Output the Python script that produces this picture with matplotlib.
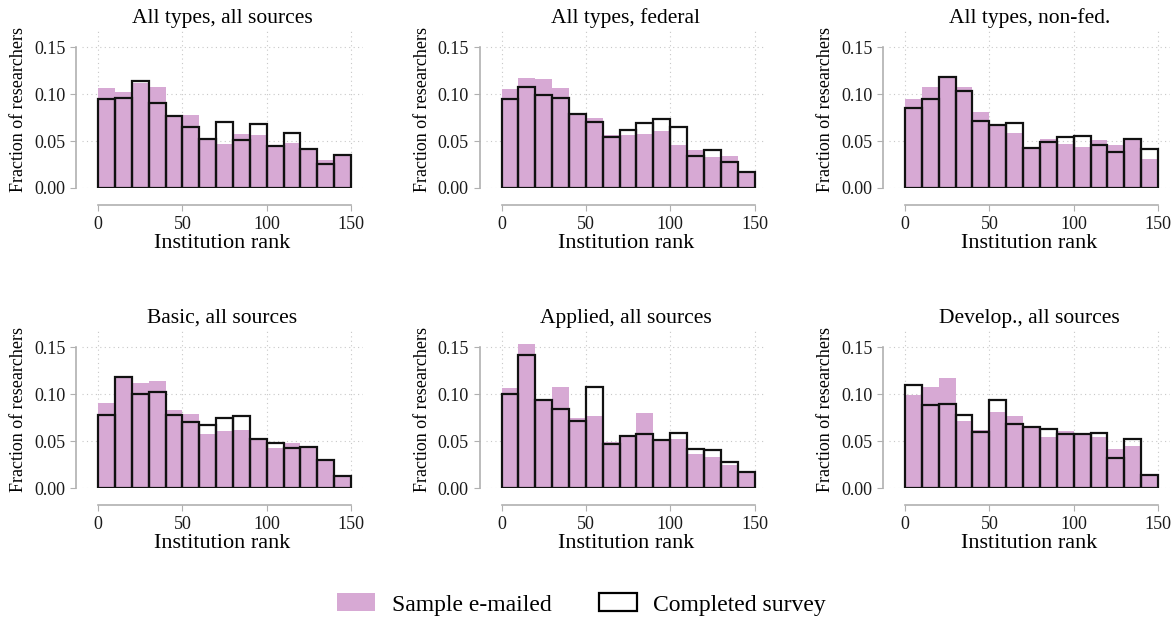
import matplotlib
matplotlib.use("Agg")
import matplotlib.pyplot as plt
from matplotlib.patches import Patch

plt.rcParams['font.family'] = ['Liberation Serif', 'DejaVu Serif']

# bin left edges (institution rank), width 10
bin_starts = [0, 10, 20, 30, 40, 50, 60, 70, 80, 90, 100, 110, 120, 130, 140]

titles = ["All types, all sources", "All types, federal", "All types, non-fed.",
          "Basic, all sources", "Applied, all sources", "Develop., all sources"]

# sample e-mailed (pink, filled)
emailed_all = [0.106, 0.102, 0.112, 0.108, 0.076, 0.078, 0.051, 0.047, 0.058, 0.056, 0.044, 0.048, 0.041, 0.030, 0.034]
emailed_fed = [0.105, 0.117, 0.116, 0.106, 0.078, 0.075, 0.056, 0.056, 0.057, 0.061, 0.046, 0.040, 0.033, 0.034, 0.016]
emailed_nonfed = [0.095, 0.108, 0.117, 0.107, 0.081, 0.066, 0.059, 0.041, 0.052, 0.047, 0.044, 0.051, 0.046, 0.051, 0.031]
emailed_basic = [0.091, 0.117, 0.112, 0.114, 0.083, 0.079, 0.058, 0.061, 0.062, 0.051, 0.043, 0.048, 0.043, 0.029, 0.012]
emailed_applied = [0.106, 0.153, 0.093, 0.108, 0.074, 0.077, 0.049, 0.055, 0.080, 0.050, 0.052, 0.036, 0.033, 0.024, 0.016]
emailed_develop = [0.099, 0.107, 0.117, 0.071, 0.062, 0.081, 0.077, 0.064, 0.054, 0.061, 0.056, 0.054, 0.041, 0.045, 0.013]

# completed survey (black outline)
completed_all = [0.095, 0.096, 0.114, 0.091, 0.077, 0.065, 0.052, 0.070, 0.051, 0.068, 0.045, 0.059, 0.042, 0.026, 0.035]
completed_fed = [0.095, 0.107, 0.099, 0.096, 0.079, 0.070, 0.054, 0.062, 0.069, 0.073, 0.065, 0.034, 0.040, 0.028, 0.017]
completed_nonfed = [0.085, 0.095, 0.118, 0.103, 0.071, 0.067, 0.069, 0.043, 0.049, 0.054, 0.055, 0.046, 0.038, 0.052, 0.041]
completed_basic = [0.078, 0.118, 0.100, 0.102, 0.078, 0.070, 0.067, 0.074, 0.077, 0.052, 0.048, 0.043, 0.044, 0.030, 0.013]
completed_applied = [0.100, 0.142, 0.094, 0.084, 0.071, 0.107, 0.047, 0.055, 0.057, 0.051, 0.059, 0.042, 0.040, 0.028, 0.017]
completed_develop = [0.110, 0.088, 0.089, 0.078, 0.060, 0.094, 0.068, 0.065, 0.063, 0.058, 0.057, 0.059, 0.032, 0.052, 0.014]

emailed = [emailed_all, emailed_fed, emailed_nonfed, emailed_basic, emailed_applied, emailed_develop]
completed = [completed_all, completed_fed, completed_nonfed, completed_basic, completed_applied, completed_develop]

pink = '#d7a9d4'
grey = '#b0b0b0'

fig = plt.figure(figsize=(11.75, 6.2), dpi=100)

lefts = [0.0698, 0.4132, 0.7566]
bottoms = [0.6968, 0.2129]
w, h = 0.239, 0.253

for i in range(6):
    ax = fig.add_axes([lefts[i % 3], bottoms[i // 3], w, h])
    ax.bar(bin_starts, emailed[i], width=10, align='edge', color=pink, linewidth=0)
    ax.bar(bin_starts, completed[i], width=10, align='edge', fill=False,
           edgecolor='#111111', linewidth=1.6)
    ax.set_xlim(-9.5, 157)
    ax.set_ylim(0, 0.167)
    ax.set_xticks([0, 50, 100, 150])
    ax.set_yticks([0, 0.05, 0.10, 0.15])
    ax.set_yticklabels(['0.00', '0.05', '0.10', '0.15'])
    ax.grid(True, linestyle=(0, (1, 3)), color='#c8c8c8', linewidth=0.8)
    ax.set_axisbelow(True)
    for s in ['top', 'right']:
        ax.spines[s].set_visible(False)
    ax.spines['left'].set_position(('outward', 4))
    ax.spines['left'].set_bounds(0, 0.15)
    ax.spines['bottom'].set_position(('outward', 12))
    ax.spines['bottom'].set_bounds(0, 150)
    for s in ['left', 'bottom']:
        ax.spines[s].set_color(grey)
        ax.spines[s].set_linewidth(1.2)
    ax.tick_params(colors=grey, labelcolor='#1a1a1a', labelsize=13, length=4, pad=4)
    ax.set_title(titles[i], fontsize=15.5, pad=6)
    ax.set_xlabel("Institution rank", fontsize=16, labelpad=1)
    ax.set_ylabel("Fraction of researchers", fontsize=13, labelpad=5)

handles = [Patch(facecolor=pink, edgecolor='none', label='Sample e-mailed'),
           Patch(facecolor='white', edgecolor='black', linewidth=1.6, label='Completed survey')]
fig.legend(handles=handles, loc='center', bbox_to_anchor=(0.495, 0.025), ncol=2,
           frameon=False, fontsize=17, handlelength=1.6, handleheight=0.8,
           handletextpad=0.7, columnspacing=2.0)

fig.savefig('out.png', dpi=100)
